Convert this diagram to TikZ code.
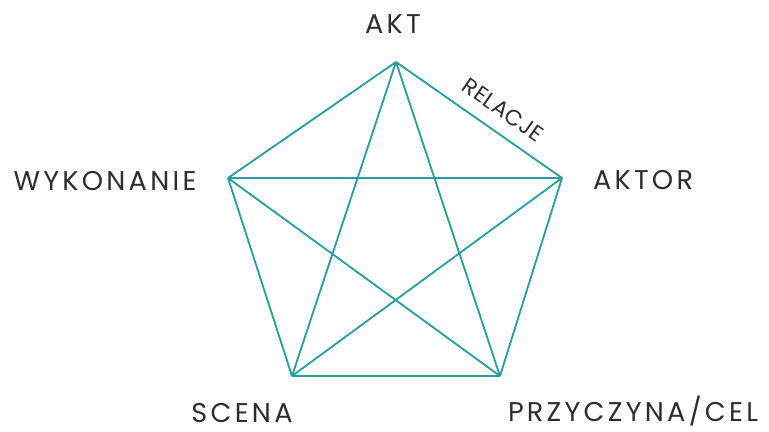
\documentclass[tikz,border=0pt]{standalone}
\usepackage{fontspec}
\setmainfont{Poppins}[LetterSpace=12]
\newfontfamily\relfont{Poppins}[LetterSpace=3]
\usetikzlibrary{positioning}
\definecolor{tealline}{RGB}{36,158,160}
\definecolor{labelgray}{RGB}{45,45,45}

\begin{document}
\begin{tikzpicture}[
    x=0.035cm, y=-0.035cm,
    edge/.style={draw=tealline, line width=1.8pt, line join=round},
    vlabel/.style={font=\fontsize{27}{29}\selectfont, text=labelgray, inner sep=0pt},
    elabel/.style={font=\relfont\fontsize{22}{24}\selectfont, text=labelgray, inner sep=0pt}
]
\useasboundingbox (0,0) rectangle (769,432);

% --- corners of the pentagon ---
\coordinate (akt)   at (396, 62);
\coordinate (aktor) at (562,178);
\coordinate (przyc) at (500,376);
\coordinate (scena) at (292,376);
\coordinate (wykon) at (228,178);

% --- labels ---
\node[vlabel] (lakt)   at (393, 24) {AKT};
\node[vlabel] (laktor) at (643,180) {AKTOR};
\node[vlabel] (lprzyc) at (633,411) {PRZYCZYNA/CEL};
\node[vlabel] (lscena) at (242,413) {SCENA};
\node[vlabel] (lwykon) at (105,181) {WYKONANIE};

% outer pentagon
\draw[edge] (akt) -- node[elabel, sloped, pos=0.57, above=13pt] (lrel) {RELACJE} (aktor);
\draw[edge] (aktor) -- (przyc);
\draw[edge] (przyc) -- (scena);
\draw[edge] (scena) -- (wykon);
\draw[edge] (wykon) -- (akt);

% inner star
\draw[edge] (akt) -- (przyc);
\draw[edge] (akt) -- (scena);
\draw[edge] (aktor) -- (scena);
\draw[edge] (aktor) -- (wykon);
\draw[edge] (wykon) -- (przyc);

\end{tikzpicture}
\end{document}
